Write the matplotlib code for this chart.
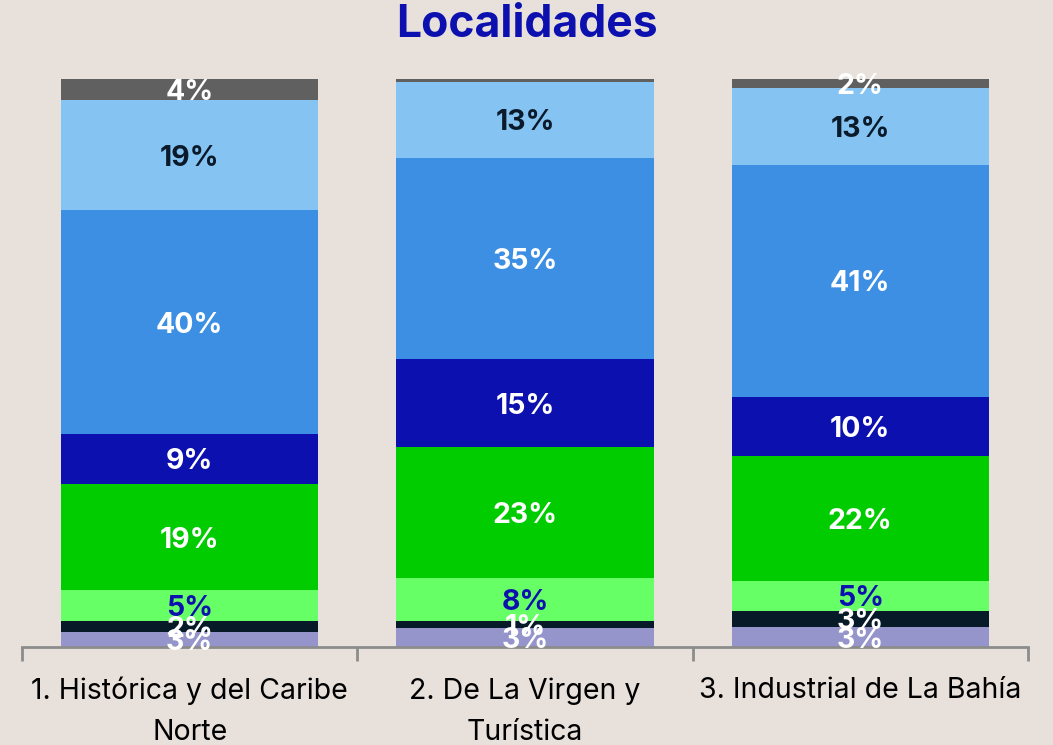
import matplotlib
matplotlib.use("Agg")
import matplotlib.pyplot as plt
import numpy as np

categories = ["1. Histórica y del Caribe\nNorte", "2. De La Virgen y\nTurística", "3. Industrial de La Bahía"]
# segments bottom -> top
seg_lavender = [2.6, 3.3, 3.5]
seg_navy = [1.9, 1.2, 2.9]
seg_lightgreen = [5.5, 7.7, 5.3]
seg_green = [18.7, 23.0, 22.0]
seg_darkblue = [8.8, 15.5, 10.4]
seg_midblue = [39.4, 35.4, 40.8]
seg_lightblue = [19.4, 13.4, 13.5]
seg_gray = [3.7, 0.5, 1.6]

labels_lavender = ["3%", "3%", "3%"]
labels_navy = ["2%", "1%", "3%"]
labels_lightgreen = ["5%", "8%", "5%"]
labels_green = ["19%", "23%", "22%"]
labels_darkblue = ["9%", "15%", "10%"]
labels_midblue = ["40%", "35%", "41%"]
labels_lightblue = ["19%", "13%", "13%"]
labels_gray = ["4%", "", "2%"]

bg = "#E7E0DB"
series = [
    (seg_lavender, labels_lavender, "#9595CB", "white"),
    (seg_navy, labels_navy, "#071A28", "white"),
    (seg_lightgreen, labels_lightgreen, "#66FF66", "#0C10AE"),
    (seg_green, labels_green, "#00CC00", "white"),
    (seg_darkblue, labels_darkblue, "#0C10AE", "white"),
    (seg_midblue, labels_midblue, "#3D8FE3", "white"),
    (seg_lightblue, labels_lightblue, "#85C4F2", "#0A1A2A"),
    (seg_gray, labels_gray, "#606060", "white"),
]

W, H = 1053, 745
fig = plt.figure(figsize=(W/100, H/100), dpi=100, facecolor=bg)
ax = fig.add_axes([22/W, 1-647/H, (1028-22)/W, (647-79)/H])
ax.set_facecolor(bg)
x = np.arange(len(categories))
bottom = np.zeros(len(categories))
for vals, labs, col, tcol in series:
    vals = np.array(vals)
    ax.bar(x, vals, bottom=bottom, width=0.767, color=col, edgecolor="none", zorder=2)
    for xi, v, b, l in zip(x, vals, bottom, labs):
        if l:
            ax.text(xi, b + v/2, l, ha="center", va="center_baseline", color=tcol,
                    fontsize=20.5, fontweight="bold", family="Inter", zorder=5)
    bottom += vals

ax.set_xlim(-0.5, 2.5)
ax.set_ylim(0, bottom.max())
for s in ["top", "right", "left"]:
    ax.spines[s].set_visible(False)
ax.spines["bottom"].set_color("#8C8C8C")
ax.spines["bottom"].set_linewidth(2)
ax.set_yticks([])
ax.set_xticks([-0.5, 0.5, 1.5, 2.5])
ax.set_xticklabels([])
ax.tick_params(axis="x", length=10, width=2, color="#8C8C8C")
line_y = [691, 733]
for xi, c in zip(x, categories):
    xf = (22 + (xi + 0.5) * (1028 - 22) / 3) / W
    for k, line in enumerate(c.split("\n")):
        fig.text(xf, 1 - line_y[k]/H, line, ha="center", va="center",
                 fontsize=20.5, family="Inter", color="black")

fig.text(0.5, 1-25/H, "Localidades", ha="center", va="center", fontsize=32,
         fontweight="bold", family="Inter", color="#0C10AE")

fig.savefig("out.png", dpi=100, facecolor=bg)
